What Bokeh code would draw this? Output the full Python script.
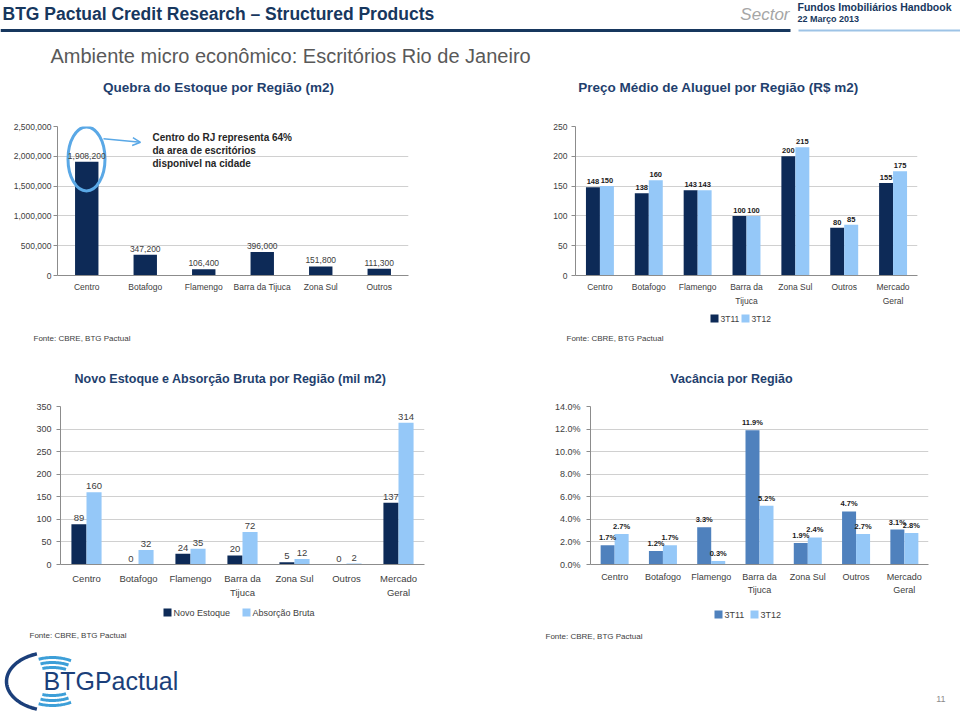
import json
import numpy as np
from bokeh.plotting import figure
from bokeh.models import (ColumnDataSource, Range1d, FactorRange, Label, LabelSet, CategoricalAxis,
                          NumeralTickFormatter, PrintfTickFormatter, FixedTicker, Arrow, OpenHead,
                          CustomJSTickFormatter)
from bokeh.layouts import column, row
from bokeh.transform import dodge
from bokeh.core.properties import value
from bokeh.embed import file_html
from bokeh.resources import INLINE

# ---------------- data ----------------
estoque_regioes = ["Centro", "Botafogo", "Flamengo", "Barra da Tijuca", "Zona Sul", "Outros"]
estoque_m2 = [1908200, 347200, 106400, 396000, 151800, 111300]
estoque_ticks = [0, 500000, 1000000, 1500000, 2000000, 2500000]

regioes = ["Centro", "Botafogo", "Flamengo", "Barra da Tijuca", "Zona Sul", "Outros", "Mercado Geral"]
regioes_linha1 = {"Barra da Tijuca": "Barra da", "Mercado Geral": "Mercado"}
regioes_linha2 = {"Barra da Tijuca": "Tijuca", "Mercado Geral": "Geral"}

aluguel_3t11 = [148, 138, 143, 100, 200, 80, 155]
aluguel_3t12 = [150, 160, 143, 100, 215, 85, 175]
aluguel_ticks = [0, 50, 100, 150, 200, 250]

novo_estoque = [89, 0, 24, 20, 5, 0, 137]
absorcao_bruta = [160, 32, 35, 72, 12, 2, 314]
absorcao_ticks = [0, 50, 100, 150, 200, 250, 300, 350]

vacancia_3t11 = [1.7, 1.2, 3.3, 11.9, 1.9, 4.7, 3.1]
vacancia_3t12 = [2.7, 1.7, 0.3, 5.2, 2.4, 2.7, 2.8]
vacancia_ticks = [0, 2, 4, 6, 8, 10, 12, 14]

# ---------------- style ----------------
FONT = "Liberation Sans"
NAVY = "#0D2A57"
LIGHT = "#95C8F8"
MID = "#4F81BD"
GRID = "#D0D0D0"
AXIS = "#8C8C8C"
TXT = "#404040"
DARKTXT = "#1A1A1A"
TITLE = "#1F3F6E"
FONTE = "Fonte: CBRE, BTG Pactual"


def line_formatter(mapping, keep_others):
    js_map = json.dumps(mapping, ensure_ascii=False)
    other = "tick" if keep_others else "''"
    return CustomJSTickFormatter(code=f"const m = {js_map}; return (tick in m) ? m[tick] : {other};")


def canvas(x0, y0, x1, y1):
    p = figure(width=x1 - x0, height=y1 - y0, x_range=Range1d(x0, x1), y_range=Range1d(y1, y0),
               title=None, output_backend="svg", toolbar_location=None, min_border=0,
               x_axis_type=None, y_axis_type=None)
    p.grid.visible = False
    p.outline_line_color = None
    return p


def base_chart(box, frame, factors, ymax, ticks, tick_size, cat_size, s1, ytick_standoff, s2=None):
    bx0, by0, bx1, by1 = box
    L, T, R, B = frame
    p = figure(width=bx1 - bx0, height=by1 - by0, x_range=FactorRange(factors=list(factors)),
               y_range=Range1d(0, ymax), title=None, output_backend="svg", toolbar_location=None,
               min_border_left=L - bx0, min_border_right=bx1 - R,
               min_border_top=T - by0, min_border_bottom=by1 - B)
    p.outline_line_color = None
    p.background_fill_color = "white"
    p.border_fill_color = "white"
    p.xgrid.grid_line_color = None
    p.ygrid.grid_line_color = GRID
    p.ygrid.ticker = FixedTicker(ticks=ticks)
    p.yaxis.ticker = FixedTicker(ticks=ticks)
    p.yaxis.axis_line_color = AXIS
    p.yaxis.major_tick_line_color = AXIS
    p.yaxis.major_tick_out = 4
    p.yaxis.major_tick_in = 0
    p.yaxis.minor_tick_line_color = None
    p.yaxis.major_label_text_font = FONT
    p.yaxis.major_label_text_font_size = tick_size
    p.yaxis.major_label_text_color = TXT
    p.yaxis.major_label_standoff = ytick_standoff
    ax1 = p.below[0]
    ax1.axis_line_color = AXIS
    ax1.major_tick_line_color = None
    ax1.major_tick_out = 0
    ax1.major_tick_in = 0
    ax1.major_label_standoff = s1
    ax1.major_label_text_font = FONT
    ax1.major_label_text_font_size = cat_size
    ax1.major_label_text_color = TXT
    if s2 is not None:
        ax1.formatter = line_formatter(regioes_linha1, True)
        ax2 = CategoricalAxis(axis_line_color=None, major_tick_line_color=None, major_tick_out=0,
                              major_tick_in=0, major_label_standoff=s2,
                              formatter=line_formatter(regioes_linha2, False),
                              major_label_text_font=FONT,
                              major_label_text_font_size=cat_size, major_label_text_color=TXT)
        p.add_layout(ax2, "below")
    n = len(factors)
    step = (R - L) / n

    def d(rx, ry):
        return (rx - L) / step, (B - ry) / (B - T) * ymax

    return p, d


def add_bars(p, cats, vals, offset, width, color, texts, size, bold, yoff, tcolor):
    src = ColumnDataSource(dict(cat=list(cats), v=list(vals), t=list(texts)))
    r = p.vbar(x=dodge("cat", offset, range=p.x_range), top="v", width=width, source=src,
               fill_color=color, line_color=None)
    ls = LabelSet(x=dodge("cat", offset, range=p.x_range), y="v", text="t", source=src,
                  text_align="center", text_baseline="bottom", y_offset=yoff,
                  text_font=value(FONT), text_font_size=size,
                  text_font_style="bold" if bold else "normal", text_color=tcolor)
    p.add_layout(ls)
    return r


def text(p, xy, s, size, color=TXT, bold=False, align="left", italic=False):
    style = "bold" if bold else ("italic" if italic else "normal")
    p.add_layout(Label(x=xy[0], y=xy[1], text=s, text_font=FONT, text_font_size=size,
                       text_font_style=style, text_color=color, text_align=align,
                       text_baseline="middle"))


def legend(p, y, entries, size):
    # entries: (square left x, colour, label)
    for sx, col, lab in entries:
        p.quad(left=[sx], right=[sx + 8], top=[y - 4], bottom=[y + 4], fill_color=col, line_color=None)
        text(p, (sx + 10, y), lab, size, TXT)


# ---------------- header ----------------
hdr = canvas(0, 0, 960, 100)
text(hdr, (2, 13), "BTG Pactual Credit Research \u2013 Structured Products", "17.5px", "#17375E", bold=True)
text(hdr, (789, 14), "Sector", "17px", "#A6A6A6", align="right", italic=True)
text(hdr, (797, 6), "Fundos Imobiliários Handbook", "10.5px", "#17375E", bold=True)
text(hdr, (797, 18), "22 Março 2013", "9px", "#17375E", bold=True)
hdr.segment(x0=[0], y0=[30], x1=[790], y1=[30], line_width=3, line_color="#17375E")
hdr.segment(x0=[798], y0=[30], x1=[960], y1=[30], line_width=2, line_color="#9DC3E6")
text(hdr, (50, 55), "Ambiente micro econômico: Escritórios Rio de Janeiro", "20px", "#595959")
text(hdr, (218, 87), "Quebra do Estoque por Região (m2)", "13.5px", TITLE, bold=True, align="center")
text(hdr, (718, 87), "Preço Médio de Aluguel por Região (R$ m2)", "13.5px", TITLE, bold=True, align="center")

# ---------------- chart 1 ----------------
c1, d1 = base_chart((0, 100, 530, 312), (57, 124, 408, 294), estoque_regioes, 2500000, estoque_ticks,
                    "8.5px", "8.5px", 6, 2)
c1.yaxis.formatter = NumeralTickFormatter(format="0,0")
add_bars(c1, estoque_regioes, estoque_m2, 0.0, 0.4, NAVY, [f"{v:,}" for v in estoque_m2],
         "8.5px", False, 3, TXT)
ex, ey = d1(86, 161)
c1.ellipse(x=[ex], y=[ey], width=37, height=64, width_units="screen", height_units="screen",
           fill_alpha=0, line_color="#5AA8E6", line_width=3)
ax0, ay0 = d1(103, 138)
ax1_, ay1_ = d1(140, 142)
c1.add_layout(Arrow(x_start=ax0, y_start=ay0, x_end=ax1_, y_end=ay1_, line_color="#5AA8E6", line_width=1.5,
                    end=OpenHead(size=8, line_color="#5AA8E6", line_width=1.5)))
text(c1, d1(152, 136), "Centro do RJ representa 64%", "10px", "#262626", bold=True)
text(c1, d1(152, 151), "da area de escritórios", "10px", "#262626", bold=True)
text(c1, d1(152, 166), "disponivel na cidade", "10px", "#262626", bold=True)

# ---------------- chart 2 ----------------
c2, d2 = base_chart((530, 100, 960, 312), (575, 126, 917, 275), regioes, 250, aluguel_ticks,
                    "8.5px", "8.5px", 6, 4, s2=1)
add_bars(c2, regioes, aluguel_3t11, -0.143, 0.286, NAVY, [str(v) for v in aluguel_3t11],
         "7.5px", True, 3, DARKTXT)
add_bars(c2, regioes, aluguel_3t12, 0.143, 0.286, LIGHT, [str(v) for v in aluguel_3t12],
         "7.5px", True, 3, DARKTXT)

# ---------------- strip between rows ----------------
mid = canvas(0, 312, 960, 395)
legend(mid, 318, [(710, NAVY, "3T11"), (741, LIGHT, "3T12")], "8.5px")
text(mid, (33, 338), FONTE, "8px", TXT)
text(mid, (566, 338), FONTE, "8px", TXT)
text(mid, (230, 378), "Novo Estoque e Absorção Bruta por Região (mil m2)", "12.5px", TITLE,
     bold=True, align="center")
text(mid, (731, 378), "Vacância por Região", "12.5px", TITLE, bold=True, align="center")

# ---------------- chart 3 ----------------
c3, d3 = base_chart((0, 395, 530, 600), (60, 406, 424, 566), regioes, 350, absorcao_ticks,
                    "9px", "9.5px", 8, 0, s2=0)
c3.yaxis.major_label_standoff = 5
add_bars(c3, regioes, novo_estoque, -0.145, 0.29, NAVY, [str(v) for v in novo_estoque],
         "9.5px", False, 3, TXT)
add_bars(c3, regioes, absorcao_bruta, 0.145, 0.29, LIGHT, [str(v) for v in absorcao_bruta],
         "9.5px", False, 3, TXT)

# ---------------- chart 4 ----------------
c4, d4 = base_chart((530, 395, 960, 600), (590, 405, 928, 568), regioes, 14, vacancia_ticks,
                    "9px", "9px", 7, 6, s2=0)
c4.yaxis.formatter = PrintfTickFormatter(format="%.1f%%")
add_bars(c4, regioes, vacancia_3t11, -0.145, 0.29, MID, [f"{v:.1f}%" for v in vacancia_3t11],
         "7.5px", True, 3, DARKTXT)
add_bars(c4, regioes, vacancia_3t12, 0.145, 0.29, LIGHT, [f"{v:.1f}%" for v in vacancia_3t12],
         "7.5px", True, 3, DARKTXT)

# ---------------- footer ----------------
ftr = canvas(0, 600, 960, 712)
legend(ftr, 612, [(163, NAVY, "Novo Estoque"), (242, LIGHT, "Absorção Bruta")], "9px")
legend(ftr, 614, [(714, MID, "3T11"), (750, LIGHT, "3T12")], "9px")
text(ftr, (29, 635), FONTE, "8px", TXT)
text(ftr, (545, 636), FONTE, "8px", TXT)
t = np.radians(np.linspace(108, 252, 60))
ftr.line(x=50 + 44 * np.cos(t), y=681 - 29 * np.sin(t), line_width=3.5, line_color="#1B3F7A")
for rx, ry in [(37, 24), (32, 19), (27, 14)]:
    tt = np.radians(np.linspace(60, 112, 30))
    ftr.line(x=52 + rx * np.cos(tt), y=681 - ry * np.sin(tt), line_width=3, line_color="#3D9FD8")
    ftr.line(x=52 + rx * np.cos(tt), y=681 + ry * np.sin(tt), line_width=3, line_color="#3D9FD8")
text(ftr, (43, 680), "BTGPactual", "25px", "#1B3F7A")
text(ftr, (945, 698), "11", "9px", "#8C8C8C", align="right")

layout = column(hdr, row(c1, c2), mid, row(c3, c4), ftr)
open("out.html", "w").write(file_html(layout, INLINE))
